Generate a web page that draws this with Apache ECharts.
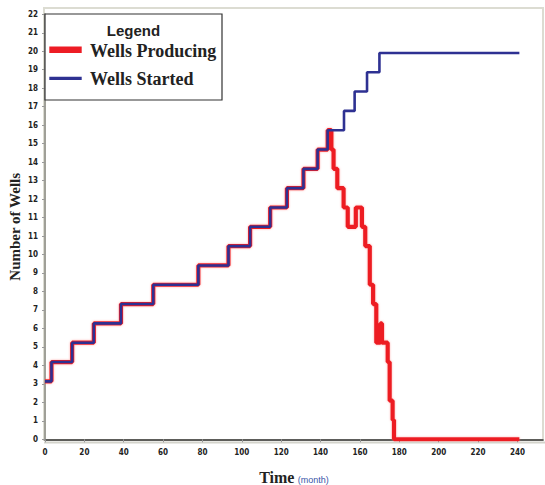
<!DOCTYPE html>
<html><head><meta charset="utf-8">
<script src="https://cdn.jsdelivr.net/npm/echarts@6/dist/echarts.min.js"></script>
<style>html,body{margin:0;padding:0;background:#fff}#c{width:545px;height:485px}</style>
</head><body><div id="c"></div>
<script>
// Wells Started: month at which count changes, and new count
const startedMonths = [0, 3.3, 13.8, 24.8, 38.6, 55, 77.9, 93.2, 104.2, 114.4, 122.9, 131.3, 138.5, 143.6, 151.9, 157.3, 163.6, 169.9, 241];
const startedCount  = [3, 4, 5, 6, 7, 8, 9, 10, 11, 12, 13, 14, 15, 16, 17, 18, 19, 20, 20];
// Wells Producing
const producingMonths = [0, 3.3, 13.8, 24.8, 38.6, 55, 77.9, 93.2, 104.2, 114.4, 122.9, 131.3, 138.5, 143.6,
  145.5, 146.6, 148.5, 151.7, 153.8, 157.9, 161, 162.7, 165, 166.7, 168.3, 170.4, 171.2, 174.1, 175.1, 176.6, 177.3, 241];
const producingCount  = [3, 4, 5, 6, 7, 8, 9, 10, 11, 12, 13, 14, 15, 16,
  15, 14, 13, 12, 11, 12, 11, 10, 8, 7, 5, 6, 5, 4, 2, 1, 0, 0];
const xTickStep = 20;
const yMax = 22, yTickCount = 23;

const started = startedMonths.map((t, i) => [t, startedCount[i]]);
const producing = producingMonths.map((t, i) => [t, producingCount[i]]);

const chart = echarts.init(document.getElementById('c'), null, {renderer: 'svg'});
const labelFont = {fontFamily: '"Liberation Sans Narrow","DejaVu Sans Condensed","Liberation Sans",sans-serif', fontSize: 8, fontWeight: 'bold', color: '#222'};
chart.setOption({
  animation: false,
  backgroundColor: '#fff',
  grid: {left: 45, right: 2, top: 14.3, bottom: 45.7, containLabel: false, outerBoundsMode: 'none'},
  xAxis: {
    type: 'value', min: 0, max: 253, interval: xTickStep,
    axisLine: {show: true, lineStyle: {color: '#333', width: 1.5}},
    axisTick: {show: true, length: 3, lineStyle: {color: '#999'}},
    splitLine: {show: false},
    axisLabel: Object.assign({margin: 9, showMaxLabel: false,
      formatter: v => (v % xTickStep === 0 ? String(v) : '')}, labelFont),
    name: '{a|Time} {b|(month)}', nameLocation: 'middle', nameGap: 30,
    nameTextStyle: {rich: {
      a: {fontFamily: '"Liberation Serif","Times New Roman",serif', fontWeight: 'bold', fontSize: 16, color: '#222'},
      b: {fontFamily: '"Liberation Sans",Arial,sans-serif', fontSize: 9, color: '#3a55a8', padding: [5, 0, 0, 0]}
    }}
  },
  yAxis: {
    type: 'value', min: 0, max: yMax, interval: yMax / yTickCount,
    axisLine: {show: true, lineStyle: {color: '#a0a098', width: 2}},
    axisTick: {show: true, length: 3, lineStyle: {color: '#999'}},
    splitLine: {show: false},
    axisLabel: Object.assign({margin: 7, formatter: v => String(Math.round(v))}, labelFont),
    name: 'Number of Wells', nameLocation: 'middle', nameGap: 23, nameMoveOverlap: false,
    nameTextStyle: {fontFamily: '"Liberation Serif","Times New Roman",serif', fontWeight: 'bold', fontSize: 15, color: '#222'}
  },
  series: [
    {name: 'Wells Producing', type: 'line', step: 'end', data: producing, showSymbol: false,
     lineStyle: {color: '#ed1c24', width: 4.2, shadowColor: 'rgba(255,120,120,0.6)', shadowBlur: 2}, z: 2},
    {name: 'Wells Started', type: 'line', step: 'end', data: started, showSymbol: false,
     lineStyle: {color: '#2e3192', width: 2.6}, z: 3}
  ],
  graphic: [
    {type: 'rect', shape: {x: 44, y: 8, width: 499, height: 432}, style: {fill: 'none', stroke: '#dcdcd2', lineWidth: 2}, z: -1, silent: true},
    {type: 'line', shape: {x1: 44, y1: 442.5, x2: 545, y2: 442.5}, style: {stroke: '#d4d4cc', lineWidth: 2}, z: -1, silent: true},
    {type: 'rect', shape: {x: 45, y: 14, width: 177, height: 86}, style: {fill: '#fff', stroke: '#333', lineWidth: 1.2}, z: 10},
    {type: 'text', x: 133.5, y: 30.5, style: {text: 'Legend', align: 'center', verticalAlign: 'middle',
      font: 'bold 15px "Liberation Sans", Arial, sans-serif', fill: '#222'}, z: 11},
    {type: 'rect', shape: {x: 49.3, y: 46.5, width: 32.4, height: 6.5}, style: {fill: '#ed1c24'}, z: 11},
    {type: 'text', x: 90, y: 50.5, style: {text: 'Wells Producing', verticalAlign: 'middle',
      font: 'bold 18px "Liberation Serif", "Times New Roman", serif', fill: '#222'}, z: 11},
    {type: 'rect', shape: {x: 49.3, y: 76.7, width: 32.4, height: 3.3}, style: {fill: '#2e3192'}, z: 11},
    {type: 'text', x: 90, y: 79, style: {text: 'Wells Started', verticalAlign: 'middle',
      font: 'bold 18px "Liberation Serif", "Times New Roman", serif', fill: '#222'}, z: 11}
  ]
});
</script></body></html>
